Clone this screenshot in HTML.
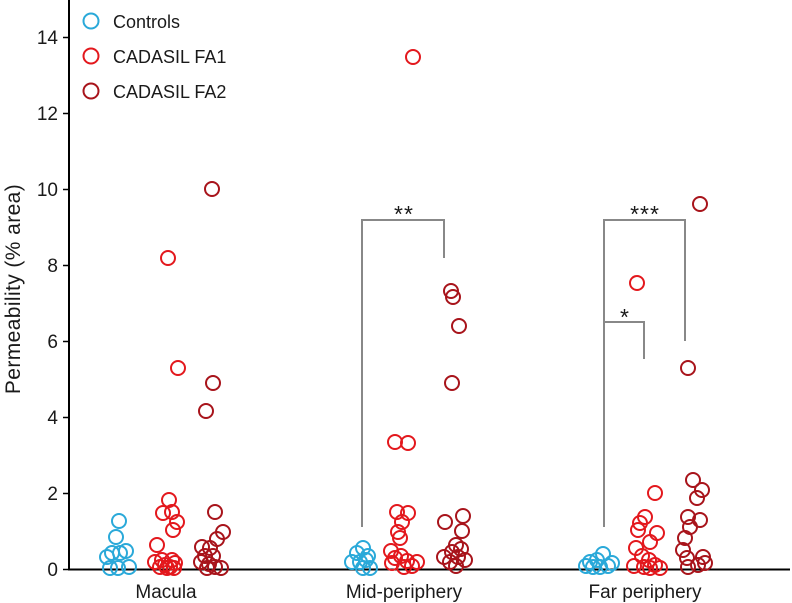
<!DOCTYPE html>
<html><head><meta charset="utf-8"><style>
html,body{margin:0;padding:0;background:#fff;}
svg{display:block;font-family:"Liberation Sans",sans-serif;}
</style></head><body>
<svg width="792" height="603" viewBox="0 0 792 603" xmlns="http://www.w3.org/2000/svg">
<rect width="792" height="603" fill="#fff"/>
<!-- axes -->
<line x1="69" y1="0" x2="69" y2="570" stroke="#000" stroke-width="2"/>
<line x1="68" y1="569.5" x2="790" y2="569.5" stroke="#000" stroke-width="2"/>
<g stroke="#000" stroke-width="1.5">
<line x1="63" y1="569.5" x2="69" y2="569.5"/>
<line x1="63" y1="493.5" x2="69" y2="493.5"/>
<line x1="63" y1="417.5" x2="69" y2="417.5"/>
<line x1="63" y1="341.5" x2="69" y2="341.5"/>
<line x1="63" y1="265.5" x2="69" y2="265.5"/>
<line x1="63" y1="189.5" x2="69" y2="189.5"/>
<line x1="63" y1="113.5" x2="69" y2="113.5"/>
<line x1="63" y1="37.5" x2="69" y2="37.5"/>
</g>
<g font-size="19" fill="#1a1a1a" text-anchor="end">
<text x="58" y="576">0</text>
<text x="58" y="500">2</text>
<text x="58" y="424">4</text>
<text x="58" y="348">6</text>
<text x="58" y="272">8</text>
<text x="58" y="196">10</text>
<text x="58" y="120">12</text>
<text x="58" y="44">14</text>
</g>
<text transform="translate(20,289) rotate(-90)" text-anchor="middle" font-size="21" letter-spacing="0.4" fill="#1a1a1a">Permeability (% area)</text>
<g font-size="19" fill="#1a1a1a" text-anchor="middle">
<text x="166" y="598">Macula</text>
<text x="404" y="598">Mid-periphery</text>
<text x="645" y="598">Far periphery</text>
</g>
<!-- legend -->
<g fill="none" stroke-width="2">
<circle cx="91" cy="21" r="7.5" stroke="#2aa9d9"/>
<circle cx="91" cy="56" r="7.5" stroke="#e3181d"/>
<circle cx="91" cy="91" r="7.5" stroke="#a8141b"/>
</g>
<g font-size="18" fill="#1a1a1a">
<text x="113" y="28">Controls</text>
<text x="113" y="63">CADASIL FA1</text>
<text x="113" y="98">CADASIL FA2</text>
</g>
<!-- brackets -->
<g stroke="#888" stroke-width="2" fill="none">
<polyline points="362,527 362,220 444,220 444,258"/>
<polyline points="604,527 604,220 685,220 685,341"/>
<polyline points="604,322 644,322 644,359"/>
</g>
<g font-size="23" fill="#1a1a1a" text-anchor="middle" letter-spacing="1">
<text x="404" y="222">**</text>
<text x="645" y="222">***</text>
<text x="625" y="325">*</text>
</g>
<!-- controls -->
<g fill="none" stroke="#2aa9d9" stroke-width="2">
<circle cx="119" cy="521" r="7"/><circle cx="116" cy="537" r="7"/><circle cx="112" cy="553" r="7"/>
<circle cx="120" cy="553" r="7"/><circle cx="126" cy="551" r="7"/><circle cx="110" cy="568" r="7"/>
<circle cx="118" cy="568" r="7"/><circle cx="129" cy="567" r="7"/><circle cx="107" cy="557" r="7"/>
<circle cx="363" cy="548" r="7"/><circle cx="357" cy="553" r="7"/><circle cx="368" cy="556" r="7"/>
<circle cx="352" cy="562" r="7"/><circle cx="360" cy="562" r="7"/><circle cx="370" cy="568" r="7"/>
<circle cx="363" cy="568" r="7"/><circle cx="366" cy="560" r="7"/>
<circle cx="603" cy="554" r="7"/><circle cx="597" cy="560" r="7"/><circle cx="586" cy="566" r="7"/>
<circle cx="593" cy="567" r="7"/><circle cx="600" cy="567" r="7"/><circle cx="608" cy="566" r="7"/>
<circle cx="612" cy="563" r="7"/><circle cx="590" cy="562" r="7"/>
</g>
<!-- FA1 -->
<g fill="none" stroke="#e3181d" stroke-width="2">
<circle cx="168" cy="258" r="7"/><circle cx="178" cy="368" r="7"/>
<circle cx="169" cy="500" r="7"/><circle cx="163" cy="513" r="7"/><circle cx="172" cy="512" r="7"/>
<circle cx="177" cy="522" r="7"/><circle cx="173" cy="530" r="7"/><circle cx="157" cy="545" r="7"/>
<circle cx="155" cy="562" r="7"/><circle cx="160" cy="567" r="7"/><circle cx="165" cy="565" r="7"/>
<circle cx="170" cy="567" r="7"/><circle cx="175" cy="563" r="7"/><circle cx="162" cy="560" r="7"/>
<circle cx="172" cy="560" r="7"/><circle cx="167" cy="568" r="7"/><circle cx="174" cy="568" r="7"/>
<circle cx="413" cy="57" r="7"/><circle cx="395" cy="442" r="7"/><circle cx="408" cy="443" r="7"/>
<circle cx="397" cy="512" r="7"/><circle cx="408" cy="513" r="7"/><circle cx="402" cy="522" r="7"/>
<circle cx="398" cy="532" r="7"/><circle cx="400" cy="538" r="7"/><circle cx="391" cy="551" r="7"/>
<circle cx="395" cy="558" r="7"/><circle cx="401" cy="556" r="7"/><circle cx="407" cy="561" r="7"/>
<circle cx="412" cy="566" r="7"/><circle cx="417" cy="562" r="7"/><circle cx="404" cy="567" r="7"/>
<circle cx="392" cy="563" r="7"/>
<circle cx="637" cy="283" r="7"/><circle cx="655" cy="493" r="7"/><circle cx="645" cy="517" r="7"/>
<circle cx="640" cy="523" r="7"/><circle cx="638" cy="530" r="7"/><circle cx="657" cy="533" r="7"/>
<circle cx="650" cy="542" r="7"/><circle cx="636" cy="548" r="7"/><circle cx="642" cy="556" r="7"/>
<circle cx="649" cy="560" r="7"/><circle cx="655" cy="565" r="7"/><circle cx="634" cy="566" r="7"/>
<circle cx="644" cy="567" r="7"/><circle cx="660" cy="568" r="7"/><circle cx="650" cy="568" r="7"/>
</g>
<!-- FA2 -->
<g fill="none" stroke="#a8141b" stroke-width="2">
<circle cx="212" cy="189" r="7"/><circle cx="213" cy="383" r="7"/><circle cx="206" cy="411" r="7"/>
<circle cx="215" cy="512" r="7"/><circle cx="223" cy="532" r="7"/><circle cx="217" cy="539" r="7"/>
<circle cx="202" cy="547" r="7"/><circle cx="210" cy="548" r="7"/><circle cx="205" cy="556" r="7"/>
<circle cx="213" cy="556" r="7"/><circle cx="201" cy="562" r="7"/><circle cx="209" cy="564" r="7"/>
<circle cx="215" cy="567" r="7"/><circle cx="221" cy="568" r="7"/><circle cx="207" cy="568" r="7"/>
<circle cx="451" cy="291" r="7"/><circle cx="453" cy="297" r="7"/><circle cx="459" cy="326" r="7"/>
<circle cx="452" cy="383" r="7"/><circle cx="445" cy="522" r="7"/><circle cx="463" cy="516" r="7"/>
<circle cx="462" cy="531" r="7"/><circle cx="456" cy="545" r="7"/><circle cx="461" cy="549" r="7"/>
<circle cx="452" cy="552" r="7"/><circle cx="444" cy="557" r="7"/><circle cx="458" cy="557" r="7"/>
<circle cx="465" cy="560" r="7"/><circle cx="450" cy="562" r="7"/><circle cx="456" cy="566" r="7"/>
<circle cx="700" cy="204" r="7"/><circle cx="688" cy="368" r="7"/>
<circle cx="693" cy="480" r="7"/><circle cx="702" cy="490" r="7"/><circle cx="697" cy="498" r="7"/>
<circle cx="688" cy="517" r="7"/><circle cx="700" cy="520" r="7"/><circle cx="690" cy="527" r="7"/>
<circle cx="685" cy="538" r="7"/><circle cx="683" cy="550" r="7"/><circle cx="687" cy="558" r="7"/>
<circle cx="703" cy="557" r="7"/><circle cx="688" cy="567" r="7"/><circle cx="698" cy="565" r="7"/>
<circle cx="705" cy="563" r="7"/>
</g>
</svg>
</body></html>
